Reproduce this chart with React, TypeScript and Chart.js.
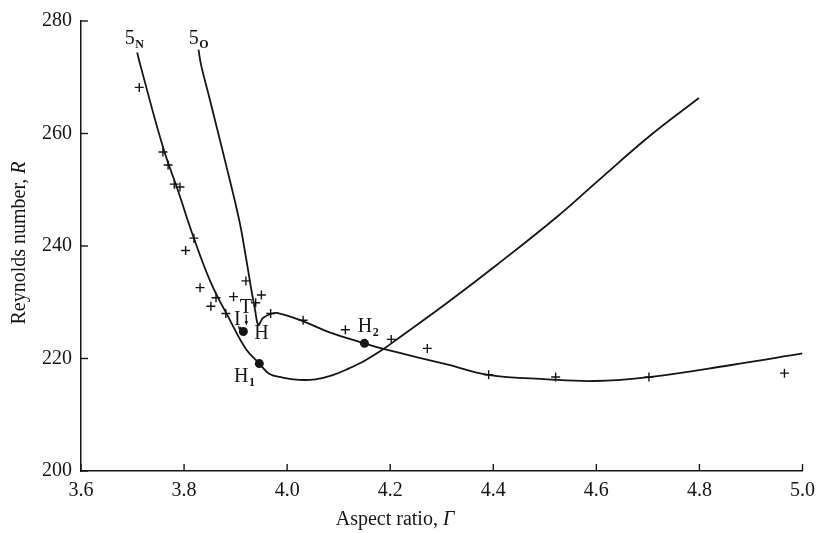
import React, { useEffect, useRef } from 'react';
import { Chart, registerables } from 'chart.js';

Chart.register(...registerables);

// Axis ticks
const xTickValues = [3.6, 3.8, 4.0, 4.2, 4.4, 4.6, 4.8, 5.0];
const yTickValues = [200, 220, 240, 260, 280];

// Curve 5_N
const curve5NX = [3.709, 3.715, 3.759, 3.788, 3.819, 3.852, 3.888, 3.920, 3.946, 3.965, 3.991, 4.023, 4.055, 4.087, 4.119, 4.152, 4.187, 4.216, 4.312, 4.409, 4.525, 4.602, 4.704, 4.799];
const curve5NY = [274.4, 272.2, 257.6, 249.9, 241.4, 233.5, 227.0, 221.7, 219.1, 217.3, 216.6, 216.2, 216.3, 217.0, 218.2, 219.7, 221.7, 223.6, 230.0, 236.8, 245.3, 251.5, 259.6, 266.3];

// Curve 5_O
const curve5OX = [3.828, 3.833, 3.849, 3.881, 3.907, 3.920, 3.930, 3.938, 3.942, 3.945, 3.953, 3.968, 3.980, 4.029, 4.081, 4.150, 4.187, 4.267, 4.312, 4.390, 4.505, 4.596, 4.702, 4.859, 5.0];
const curve5OY = [274.9, 272.2, 266.4, 254.6, 244.6, 238.0, 232.5, 228.5, 226.4, 226.0, 227.2, 227.9, 228.1, 226.7, 224.7, 222.7, 221.7, 219.9, 218.9, 217.1, 216.3, 216.0, 216.7, 218.8, 220.9];

// Computed points (+)
const crossX = [3.713, 3.759, 3.769, 3.781, 3.792, 3.819, 3.803, 3.831, 3.862, 3.852, 3.881, 3.896, 3.920, 3.950, 3.939, 3.968, 4.031, 4.113, 4.202, 4.272, 4.391, 4.521, 4.702, 4.965];
const crossY = [268.2, 256.7, 254.4, 251.0, 250.5, 241.4, 239.2, 232.6, 230.8, 229.3, 228.0, 231.0, 233.8, 231.3, 229.9, 228.0, 226.8, 225.1, 223.4, 221.8, 217.1, 216.7, 216.7, 217.4];

// Special points (H1, H2, I)
const dotX = [3.946, 4.150, 3.915];
const dotY = [219.1, 222.7, 224.8];

// Labels
const labelText = ['5', '5', 'H', 'H', 'H', 'T', 'I'];
const labelSub = ['N', 'O', '1', '2', '', '', ''];
const labelX = [3.685, 3.809, 3.897, 4.137, 3.936, 3.908, 3.897];
const labelY = [275.9, 275.9, 215.9, 224.8, 223.5, 228.1, 226.0];

// Small arrows
const arrowFromX = [3.9205, 3.905];
const arrowFromY = [227.8, 225.7];
const arrowToX = [3.921, 3.912];
const arrowToY = [226.0, 225.0];

const INK = '#151515';
const FONT = '"Liberation Serif", "DejaVu Serif", serif';

const zip = (xs: number[], ys: number[]) => xs.map((x, i) => ({ x, y: ys[i] }));

const decorPlugin = {
  id: 'decor',
  afterDraw(chart: any) {
    const { ctx, chartArea } = chart;
    const xs = chart.scales.x;
    const ys = chart.scales.y;
    ctx.save();
    ctx.strokeStyle = INK;
    ctx.fillStyle = INK;
    ctx.lineWidth = 1.4;
    // inward ticks
    xTickValues.forEach((v) => {
      const px = xs.getPixelForValue(v);
      ctx.beginPath();
      ctx.moveTo(px, chartArea.bottom);
      ctx.lineTo(px, chartArea.bottom - 7);
      ctx.stroke();
    });
    yTickValues.forEach((v) => {
      const py = ys.getPixelForValue(v);
      ctx.beginPath();
      ctx.moveTo(chartArea.left, py);
      ctx.lineTo(chartArea.left + 7, py);
      ctx.stroke();
    });

    // labels
    ctx.textBaseline = 'alphabetic';
    ctx.textAlign = 'left';
    labelText.forEach((t, i) => {
      const px = xs.getPixelForValue(labelX[i]);
      const py = ys.getPixelForValue(labelY[i]);
      ctx.font = `20px ${FONT}`;
      ctx.fillText(t, px, py);
      const w = ctx.measureText(t).width;
      if (labelSub[i]) {
        ctx.font = `bold 12px ${FONT}`;
        ctx.fillText(labelSub[i], px + w + 0.5, py + 4);
      }
    });

    // arrows
    ctx.lineWidth = 1.3;
    arrowFromX.forEach((fx, i) => {
      const x1 = xs.getPixelForValue(fx);
      const y1 = ys.getPixelForValue(arrowFromY[i]);
      const x2 = xs.getPixelForValue(arrowToX[i]);
      const y2 = ys.getPixelForValue(arrowToY[i]);
      ctx.beginPath();
      ctx.moveTo(x1, y1);
      ctx.lineTo(x2, y2);
      ctx.stroke();
      const a = Math.atan2(y2 - y1, x2 - x1);
      ctx.beginPath();
      ctx.moveTo(x2, y2);
      ctx.lineTo(x2 - 4 * Math.cos(a - 0.5), y2 - 4 * Math.sin(a - 0.5));
      ctx.lineTo(x2 - 4 * Math.cos(a + 0.5), y2 - 4 * Math.sin(a + 0.5));
      ctx.closePath();
      ctx.fill();
    });

    // axis titles
    const xa = 'Aspect ratio, ';
    ctx.font = `20px ${FONT}`;
    const wa = ctx.measureText(xa).width;
    ctx.font = `italic 20px ${FONT}`;
    const wg = ctx.measureText('Γ').width;
    const xStart = 395 - (wa + wg) / 2;
    ctx.font = `20px ${FONT}`;
    ctx.fillText(xa, xStart, 525);
    ctx.font = `italic 20px ${FONT}`;
    ctx.fillText('Γ', xStart + wa, 525);

    ctx.translate(25, 243);
    ctx.rotate(-Math.PI / 2);
    const ya = 'Reynolds number, ';
    ctx.font = `20px ${FONT}`;
    const wr = ctx.measureText(ya).width;
    ctx.font = `italic 20px ${FONT}`;
    const wR = ctx.measureText('R').width;
    const yStart = -(wr + wR) / 2;
    ctx.font = `20px ${FONT}`;
    ctx.fillText(ya, yStart, 0);
    ctx.font = `italic 20px ${FONT}`;
    ctx.fillText('R', yStart + wr, 0);
    ctx.restore();
  },
};

export default function App() {
  const ref = useRef<HTMLCanvasElement | null>(null);
  useEffect(() => {
    document.body.style.margin = '0';
    const canvas = ref.current;
    if (!canvas) return;
    const chart = new Chart(canvas, {
      type: 'line',
      data: {
        datasets: [
          {
            data: zip(curve5NX, curve5NY),
            borderColor: INK,
            borderWidth: 1.8,
            pointRadius: 0,
            tension: 0.4,
            fill: false,
          },
          {
            data: zip(curve5OX, curve5OY),
            borderColor: INK,
            borderWidth: 1.8,
            pointRadius: 0,
            tension: 0.4,
            fill: false,
          },
          {
            data: zip(crossX, crossY),
            showLine: false,
            pointStyle: 'cross',
            pointRadius: 4.5,
            borderColor: INK,
            borderWidth: 1.4,
          },
          {
            data: zip(dotX, dotY),
            showLine: false,
            pointStyle: 'circle',
            pointRadius: 4.5,
            backgroundColor: INK,
            borderColor: INK,
            borderWidth: 0,
          },
        ] as any,
      },
      options: {
        animation: false,
        responsive: false,
        devicePixelRatio: 1,
        layout: { padding: { top: 16, right: 17, left: 0, bottom: 0 } },
        plugins: { legend: { display: false }, tooltip: { enabled: false } },
        scales: {
          x: {
            type: 'linear',
            min: 3.6,
            max: 5.0,
            afterBuildTicks: (s: any) => {
              s.ticks = xTickValues.map((v) => ({ value: v }));
            },
            afterFit: (s: any) => {
              s.height = 62;
            },
            grid: { display: false, drawTicks: false },
            border: { display: true, color: INK, width: 1.5 },
            ticks: {
              color: INK,
              padding: 8,
              font: { family: FONT, size: 20 },
              callback: (v: any) => Number(v).toFixed(1),
            },
          },
          y: {
            type: 'linear',
            min: 200,
            max: 280,
            afterBuildTicks: (s: any) => {
              s.ticks = yTickValues.map((v) => ({ value: v }));
            },
            afterFit: (s: any) => {
              s.width = 81;
            },
            grid: { display: false, drawTicks: false },
            border: { display: true, color: INK, width: 1.5 },
            ticks: {
              color: INK,
              padding: 9,
              font: { family: FONT, size: 20 },
              callback: (v: any) => String(Math.round(Number(v))),
            },
          },
        },
      },
      plugins: [decorPlugin],
    } as any);
    return () => chart.destroy();
  }, []);
  return (
    <div style={{ width: 823, height: 533 }}>
      <canvas ref={ref} width={823} height={533} style={{ display: 'block' }} />
    </div>
  );
}
